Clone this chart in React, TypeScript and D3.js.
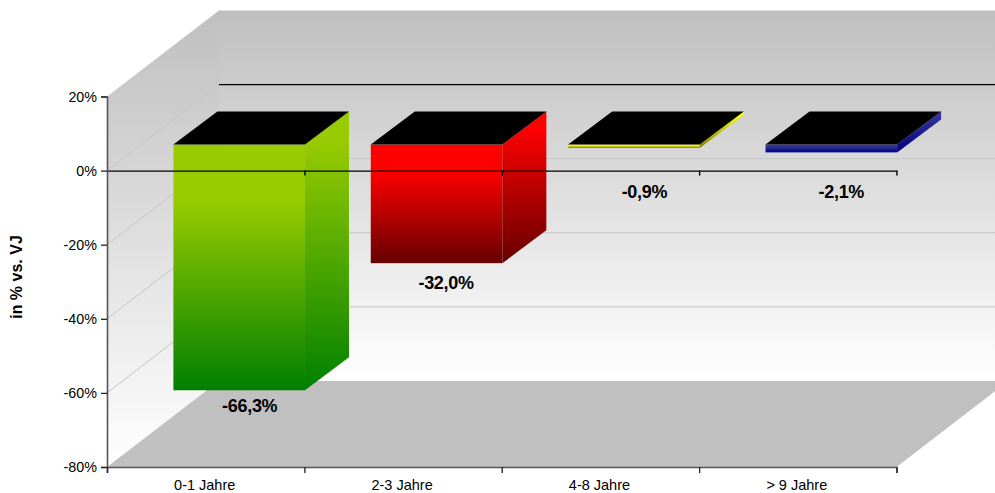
import { useEffect, useRef } from "react";
import { select, scaleBand, scaleLinear, axisLeft, axisBottom } from "d3";

const categories = ["0-1 Jahre", "2-3 Jahre", "4-8 Jahre", "> 9 Jahre"];
const values = [-66.3, -32.0, -0.9, -2.1];
const valueLabels = ["-66,3%", "-32,0%", "-0,9%", "-2,1%"];
const yTicks = [20, 0, -20, -40, -60, -80];
const topColors = ["#99cc00", "#ff0000", "#ffff00", "#333399"];
const bottomColors = ["#008000", "#660000", "#808000", "#000080"];

const width = 995;
const height = 493;
const font = "'Liberation Sans', Arial, sans-serif";

// plot box of the front plane
const left = 107;
const right = 896.5;
const bottom = 467;
const top = 96.5;

// 3d offsets, walls then bars inside the depth
const depthX = 112;
const depthY = 86;
const barShiftX = 33.5;
const barShiftY = 26;
const barDepthX = 44;
const barDepthY = 33;

// hand placed labels, same as in the original (px from bar end)
const labelDy = [22, 26, 50, 46];
const labelDx = [10.5, 9.5, 10.5, 10];

const y = scaleLinear().domain([-80, 20]).range([bottom, top]);
const x = scaleBand<string>()
  .domain(categories)
  .range([left, right])
  .paddingInner(1 / 3)
  .paddingOuter(1 / 6);
const xLabels = scaleBand<string>().domain(categories).range([left, right]);
const xEdges = scaleLinear().domain([0, categories.length]).range([left, right]);
const edgeTicks = categories.map((_, i) => i + 1);

const pts = (p: number[][]) => p.map((d) => d.join(",")).join(" ");

export default function App() {
  const yAxisRef = useRef<SVGGElement>(null);
  const xAxisRef = useRef<SVGGElement>(null);
  const xLabelRef = useRef<SVGGElement>(null);
  const zeroRef = useRef<SVGGElement>(null);

  useEffect(() => {
    // y-axis
    const yAxis = axisLeft(y)
      .tickValues(yTicks)
      .tickSize(6)
      .tickPadding(4)
      .tickFormat((d) => d + "%");
    select(yAxisRef.current).call(yAxis as any);

    // bottom axis, ticks sit between the categories
    const xAxis = axisBottom(xEdges)
      .tickValues([0, ...edgeTicks])
      .tickSize(6)
      .tickFormat(() => "");
    select(xAxisRef.current).call(xAxis as any);

    const xLabelAxis = axisBottom(xLabels).tickSize(0).tickPadding(13);
    select(xLabelRef.current).call(xLabelAxis as any);
    select(xLabelRef.current).select(".domain").remove();

    // zero line runs over the bars
    const zeroAxis = axisBottom(xEdges)
      .tickValues(edgeTicks)
      .tickSize(5)
      .tickSizeOuter(0)
      .tickFormat(() => "");
    select(zeroRef.current).call(zeroAxis as any);

    [yAxisRef, xAxisRef].forEach((r) => {
      select(r.current).selectAll(".domain").attr("stroke", "#555").attr("stroke-width", 1.6);
      select(r.current).selectAll(".tick line").attr("stroke", "#222").attr("stroke-width", 1.3);
    });
    select(zeroRef.current)
      .selectAll(".domain, .tick line")
      .attr("stroke", "#000")
      .attr("stroke-width", 1.4);
    select(yAxisRef.current)
      .selectAll("text")
      .attr("fill", "#000")
      .style("font-family", font)
      .style("font-size", "14.3px");
    select(xLabelRef.current)
      .selectAll("text")
      .attr("fill", "#000")
      .style("font-family", font)
      .style("font-size", "14.5px");
  }, []);

  return (
    <svg
      width={width}
      height={height}
      style={{ position: "absolute", left: 0, top: 0 }}
    >
      <defs>
        <linearGradient id="wall" x1="0" y1="0" x2="0" y2="1">
          <stop offset="0" stopColor="#bfbfbf" />
          <stop offset="1" stopColor="#ffffff" />
        </linearGradient>
        {categories.map((c, i) => (
          <g key={c}>
            <linearGradient id={`bar${i}`} x1="0" y1="0" x2="0" y2="1">
              <stop offset="0.22" stopColor={topColors[i]} />
              <stop offset="1" stopColor={bottomColors[i]} />
            </linearGradient>
            <linearGradient id={`side${i}`} x1="0" y1="0" x2="0" y2="1">
              <stop offset="0.1" stopColor={topColors[i]} />
              <stop offset="1" stopColor={bottomColors[i]} />
            </linearGradient>
          </g>
        ))}
      </defs>

      {/* walls and floor */}
      <polygon
        fill="url(#wall)"
        points={pts([
          [left, y(20)],
          [left + depthX, y(20) - depthY],
          [left + depthX, y(-80) - depthY],
          [left, y(-80)],
        ])}
      />
      <polygon
        fill="url(#wall)"
        points={pts([
          [left + depthX, y(20) - depthY],
          [right + depthX, y(20) - depthY],
          [right + depthX, y(-80) - depthY],
          [left + depthX, y(-80) - depthY],
        ])}
      />
      <polygon
        fill="#c0c0c0"
        points={pts([
          [left, y(-80)],
          [right, y(-80)],
          [right + depthX, y(-80) - depthY],
          [left + depthX, y(-80) - depthY],
        ])}
      />

      {/* gridlines on both walls */}
      {yTicks
        .filter((t) => t !== 20 && t !== -80)
        .map((t) => (
          <g key={t} fill="none">
            <line
              x1={left}
              y1={y(t)}
              x2={left + depthX}
              y2={y(t) - depthY}
              stroke="#c4c4c4"
            />
            <line
              x1={left + depthX}
              y1={y(t) - depthY}
              x2={right + depthX}
              y2={y(t) - depthY}
              stroke={t === 0 ? "#000" : "#c4c4c4"}
              strokeWidth={t === 0 ? 1.3 : 1}
            />
          </g>
        ))}

      {/* bars */}
      {categories.map((c, i) => {
        const x0 = (x(c) as number) + barShiftX;
        const x1 = x0 + x.bandwidth();
        const y0 = y(0) - barShiftY;
        const y1 = y(values[i]) - barShiftY;
        return (
          <g key={c}>
            <rect
              fill={`url(#bar${i})`}
              x={x0}
              y={y0}
              width={x1 - x0}
              height={y1 - y0}
            />
            <polygon
              fill={`url(#side${i})`}
              points={pts([
                [x1, y0],
                [x1 + barDepthX, y0 - barDepthY],
                [x1 + barDepthX, y1 - barDepthY],
                [x1, y1],
              ])}
            />
            <polygon
              fill="#000"
              points={pts([
                [x0, y0],
                [x1, y0],
                [x1 + barDepthX, y0 - barDepthY],
                [x0 + barDepthX, y0 - barDepthY],
              ])}
            />
          </g>
        );
      })}

      <g ref={zeroRef} transform={`translate(0,${y(0)})`} />
      <g ref={yAxisRef} transform={`translate(${left},0)`} />
      <g ref={xAxisRef} transform={`translate(0,${bottom})`} />
      <g ref={xLabelRef} transform={`translate(-1,${bottom})`} />

      {/* value labels */}
      {categories.map((c, i) => (
        <text
          key={c}
          x={(x(c) as number) + barShiftX + x.bandwidth() / 2 + labelDx[i]}
          y={y(values[i]) - barShiftY + labelDy[i]}
          textAnchor="middle"
          fontFamily={font}
          fontSize={18}
          fontWeight="bold"
          letterSpacing={-0.3}
        >
          {valueLabels[i]}
        </text>
      ))}

      <text
        transform="translate(22,277) rotate(-90)"
        textAnchor="middle"
        fontFamily={font}
        fontSize={16}
        fontWeight="bold"
      >
        in % vs. VJ
      </text>
    </svg>
  );
}
